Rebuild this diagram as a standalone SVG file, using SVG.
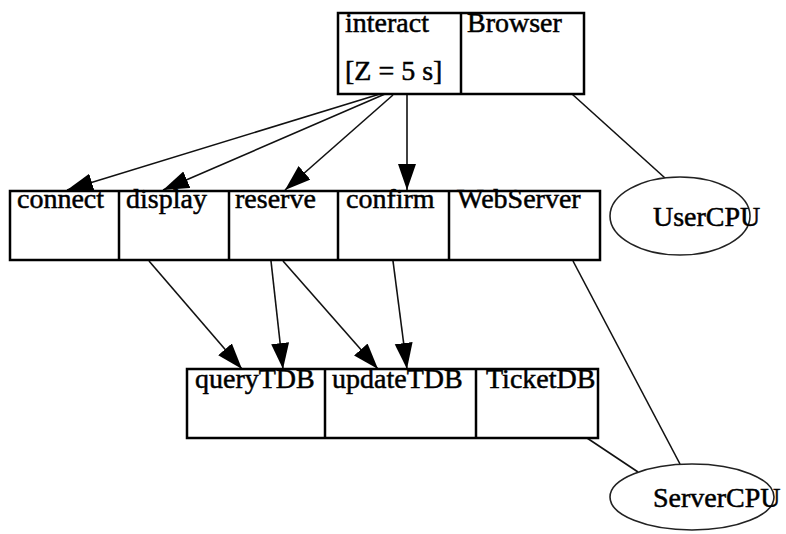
<svg xmlns="http://www.w3.org/2000/svg" width="786" height="534" viewBox="0 0 786 534">
<style>
.box{fill:#fff;stroke:#000;stroke-width:2.5}
.div{stroke:#000;stroke-width:2.5}
.t{font-family:"Liberation Serif","Times New Roman",serif;font-size:28px;fill:#000;stroke:#000;stroke-width:0.5}
.e{stroke:#111;stroke-width:1.6;fill:none}
.ell{fill:#fff;stroke:#222;stroke-width:1.6}
</style>
<defs>
<marker id="ah" markerUnits="userSpaceOnUse" markerWidth="28" markerHeight="20" refX="26" refY="9" orient="auto" viewBox="0 0 28 20">
<path d="M0,0 L26,9 L0,18 z" fill="#000"/>
</marker>
</defs>
<rect width="786" height="534" fill="#fff"/>
<g id="connectors">
<line class="e" x1="380" y1="94" x2="67" y2="190" marker-end="url(#ah)"/>
<line class="e" x1="385" y1="94" x2="163" y2="190" marker-end="url(#ah)"/>
<line class="e" x1="393" y1="95" x2="285" y2="190" marker-end="url(#ah)"/>
<line class="e" x1="407" y1="94" x2="407" y2="190" marker-end="url(#ah)"/>
<line class="e" x1="149" y1="261" x2="242" y2="369" marker-end="url(#ah)"/>
<line class="e" x1="271" y1="261" x2="283" y2="369" marker-end="url(#ah)"/>
<line class="e" x1="283" y1="261" x2="378" y2="369" marker-end="url(#ah)"/>
<line class="e" x1="393" y1="261" x2="407" y2="369" marker-end="url(#ah)"/>
<line class="e" x1="572" y1="94" x2="665" y2="178"/>
<line class="e" x1="573" y1="261" x2="680" y2="464"/>
<line class="e" x1="587" y1="438" x2="638" y2="472"/>
</g>
<g id="Browser">
<rect class="box" x="338" y="13" width="246" height="81"/>
<line class="div" x1="461" y1="13" x2="461" y2="94"/>
<text class="t" x="345" y="32">interact</text>
<text class="t" x="345" y="80">[Z = 5 s]</text>
<text class="t" x="467" y="32">Browser</text>
</g>
<g id="WebServer">
<rect class="box" x="10" y="191" width="590" height="69"/>
<line class="div" x1="119" y1="191" x2="119" y2="260"/>
<line class="div" x1="229" y1="191" x2="229" y2="260"/>
<line class="div" x1="338" y1="191" x2="338" y2="260"/>
<line class="div" x1="449" y1="191" x2="449" y2="260"/>
<text class="t" x="17" y="208">connect</text>
<text class="t" x="126" y="208">display</text>
<text class="t" x="235" y="208">reserve</text>
<text class="t" x="346" y="208">confirm</text>
<text class="t" x="457" y="208">WebServer</text>
</g>
<g id="TicketDB">
<rect class="box" x="187" y="369" width="411" height="69"/>
<line class="div" x1="325" y1="369" x2="325" y2="438"/>
<line class="div" x1="476" y1="369" x2="476" y2="438"/>
<text class="t" x="195" y="388">queryTDB</text>
<text class="t" x="332" y="388">updateTDB</text>
<text class="t" x="486" y="388">TicketDB</text>
</g>
<g id="UserCPU">
<ellipse class="ell" cx="680" cy="216" rx="70" ry="39"/>
<text class="t" x="653" y="226">UserCPU</text>
</g>
<g id="ServerCPU">
<ellipse class="ell" cx="692" cy="497" rx="82" ry="33"/>
<text class="t" x="653" y="507">ServerCPU</text>
</g>
</svg>
